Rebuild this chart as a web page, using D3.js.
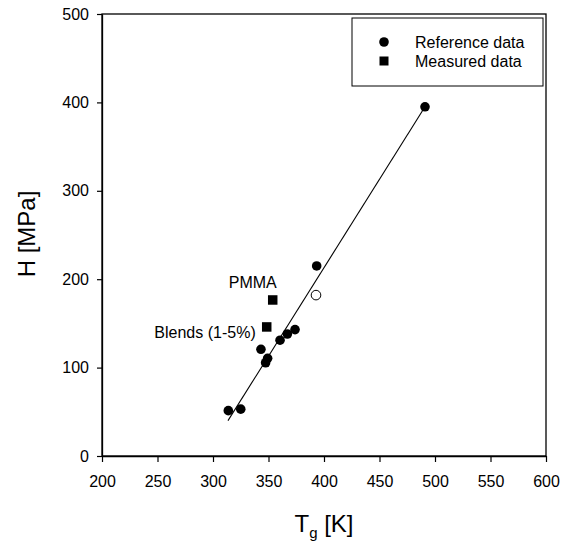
<!DOCTYPE html>
<html><head><meta charset="utf-8">
<script src="https://cdn.jsdelivr.net/npm/d3@7"></script>
<style>
body{margin:0;background:#fff;}
text{font-family:"Liberation Sans",Arial,sans-serif;fill:#000;}
</style></head>
<body><svg id="c" width="567" height="541"></svg>
<script>
const refTg = [313.8, 325, 343.2, 347.4, 349.2, 360.4, 367, 373.9, 393.4, 491];
const refH  = [51.3, 53, 120.7, 105.5, 110.5, 131, 138, 143, 215, 395];
const openTg = [392.8];
const openH  = [182];
const measLabels = ["PMMA", "Blends (1-5%)"];
const measTg = [353.8, 348.4];
const measH  = [176.5, 146];
const fitTg = [313.5, 491];
const fitH  = [40, 395];
const xTicks = [200, 250, 300, 350, 400, 450, 500, 550, 600];
const yTicks = [0, 100, 200, 300, 400, 500];
const legendLabels = ["Reference data", "Measured data"];

const svg = d3.select("#c");
const L = 102, R = 546, T = 14, B = 456;
const x = d3.scaleLinear().domain([200, 600]).range([L, R]);
const y = d3.scaleLinear().domain([0, 500]).range([B, T]);

// frame
svg.append("rect").attr("x", L).attr("y", T).attr("width", R - L).attr("height", B - T)
  .attr("fill", "none").attr("stroke", "#000").attr("stroke-width", 1.3);

const gx = svg.append("g").attr("transform", `translate(0,${B})`)
  .call(d3.axisBottom(x).tickValues(xTicks).tickFormat(d3.format("d")).tickSize(6).tickPadding(14).tickSizeOuter(0));
const gy = svg.append("g").attr("transform", `translate(${L},0)`)
  .call(d3.axisLeft(y).tickValues(yTicks).tickFormat(d3.format("d")).tickSize(5).tickPadding(8).tickSizeOuter(0));
[gx, gy].forEach(g => {
  g.select(".domain").attr("stroke", "#000").attr("stroke-width", 1.3);
  g.selectAll(".tick line").attr("stroke", "#000").attr("stroke-width", 1.2);
  g.selectAll(".tick text").attr("font-size", 16).attr("font-family", "Liberation Sans, Arial, sans-serif").attr("fill", "#000");
});

// axis titles
const xt = svg.append("text").attr("x", (L + R) / 2).attr("y", 532).attr("text-anchor", "middle").attr("font-size", 24);
xt.append("tspan").text("T");
xt.append("tspan").attr("font-size", 15).attr("dy", 6).text("g");
xt.append("tspan").attr("dy", -6).text(" [K]");

svg.append("text").attr("transform", `translate(35,${(B + T) / 2 - 1}) rotate(-90)`)
  .attr("text-anchor", "middle").attr("font-size", 24).text("H [MPa]");

// fit line
svg.append("line")
  .attr("x1", x(fitTg[0])).attr("y1", y(fitH[0]))
  .attr("x2", x(fitTg[1])).attr("y2", y(fitH[1]))
  .attr("stroke", "#000").attr("stroke-width", 1.1);

// reference points
svg.append("g").selectAll("circle").data(refTg).join("circle")
  .attr("cx", d => x(d)).attr("cy", (d, i) => y(refH[i])).attr("r", 4.8).attr("fill", "#000");

// open point
svg.append("g").selectAll("circle").data(openTg).join("circle")
  .attr("cx", d => x(d)).attr("cy", (d, i) => y(openH[i])).attr("r", 4.8)
  .attr("fill", "#fff").attr("stroke", "#000").attr("stroke-width", 1);

// measured squares
const s = 9.5;
svg.append("g").selectAll("rect").data(measTg).join("rect")
  .attr("x", d => x(d) - s / 2).attr("y", (d, i) => y(measH[i]) - s / 2)
  .attr("width", s).attr("height", s).attr("fill", "#000");

// annotations
svg.append("text").attr("x", x(measTg[0]) + 4).attr("y", y(measH[0]) - 12)
  .attr("text-anchor", "end").attr("font-size", 16).text(measLabels[0]);
svg.append("text").attr("x", x(measTg[1]) - 11).attr("y", y(measH[1]) + 11)
  .attr("text-anchor", "end").attr("font-size", 16).text(measLabels[1]);

// legend
const lg = svg.append("g");
lg.append("rect").attr("x", 352).attr("y", 18).attr("width", 191).attr("height", 68)
  .attr("fill", "#fff").attr("stroke", "#000").attr("stroke-width", 1);
lg.append("circle").attr("cx", 384).attr("cy", 42).attr("r", 4.8).attr("fill", "#000");
lg.append("rect").attr("x", 384 - 4.5).attr("y", 61 - 4.5).attr("width", 9).attr("height", 9).attr("fill", "#000");
lg.selectAll("text").data(legendLabels).join("text")
  .attr("x", 415).attr("y", (d, i) => 42 + i * 19).attr("dy", "0.36em")
  .attr("font-size", 16).text(d => d);
</script></body></html>
